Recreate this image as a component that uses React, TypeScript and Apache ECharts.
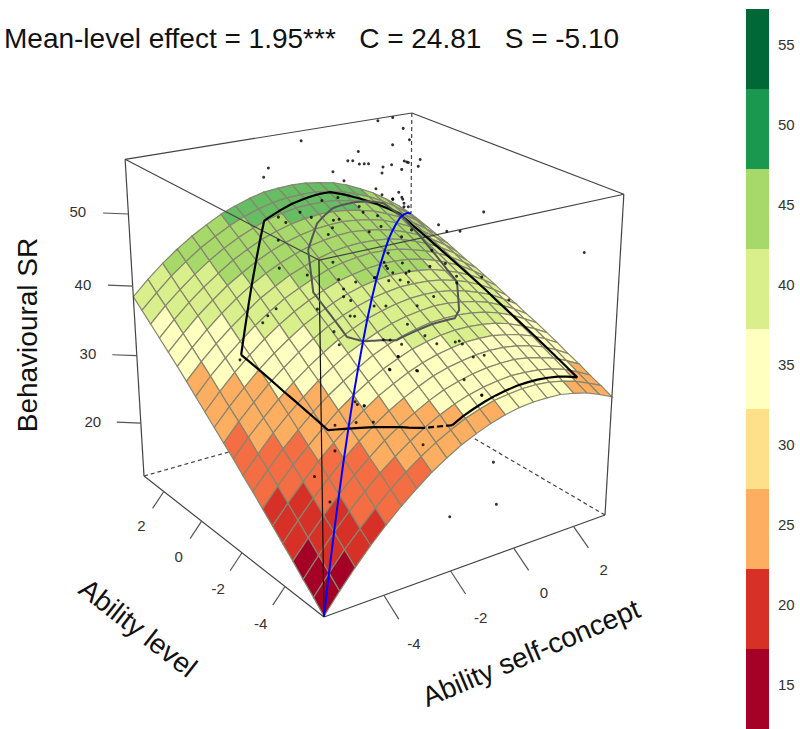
import React, { useEffect, useRef } from "react";
import * as echarts from "echarts";

// ---------- data ----------
const titleText = "Mean-level effect = 1.95***   C = 24.81   S = -5.10";
const zLabel = "Behavioural SR";
const yLabel = "Ability level";
const xLabel = "Ability self-concept";
const planeTicks = [-4, -2, 0, 2];
const srTicks = [20, 30, 40, 50];
const legendVals = [15, 20, 25, 30, 35, 40, 45, 50, 55];
const legendCols = ["#a50026", "#d73027", "#fdae61", "#fee08b", "#ffffbf", "#d9ef8b", "#a6d96a", "#1a9850", "#006837"];
const bandBreaks = [17.2, 22.2, 27.2, 32.2, 37.2, 42.2, 47.2];
const bandCols = ["#a50026", "#d73027", "#f46d43", "#fdae61", "#ffffbf", "#d9ef8b", "#a6d96a", "#66bd63"];

const gridVals = [-5.7, -5.26, -4.82, -4.38, -3.94, -3.5, -3.06, -2.62, -2.18, -1.74, -1.3, -0.86, -0.42, 0.02, 0.46, 0.9, 1.34, 1.78, 2.22, 2.66, 3.1];
// Behavioural SR over the grid: one row per ability level, one column per self-concept
const surface = [
  [12.0, 14.7, 17.2, 19.5, 21.6, 23.5, 25.2, 26.8, 28.1, 29.3, 30.2, 31.0, 31.6, 32.0, 32.2, 32.2, 32.1, 31.7, 31.2, 30.4, 29.5],
  [13.5, 16.1, 18.6, 20.8, 22.9, 24.8, 26.5, 28.0, 29.3, 30.4, 31.4, 32.1, 32.7, 33.0, 33.2, 33.2, 33.0, 32.6, 32.0, 31.2, 30.3],
  [14.9, 17.5, 20.0, 22.2, 24.2, 26.1, 27.7, 29.2, 30.5, 31.6, 32.5, 33.2, 33.7, 34.0, 34.2, 34.1, 33.9, 33.5, 32.9, 32.0, 31.0],
  [16.4, 18.9, 21.3, 23.5, 25.5, 27.3, 29.0, 30.4, 31.6, 32.7, 33.6, 34.2, 34.7, 35.0, 35.1, 35.1, 34.8, 34.3, 33.7, 32.8, 31.8],
  [17.8, 20.3, 22.7, 24.8, 26.8, 28.6, 30.2, 31.6, 32.8, 33.8, 34.7, 35.3, 35.7, 36.0, 36.1, 36.0, 35.7, 35.2, 34.5, 33.6, 32.5],
  [19.2, 21.7, 24.0, 26.2, 28.1, 29.8, 31.4, 32.8, 33.9, 34.9, 35.7, 36.3, 36.7, 37.0, 37.0, 36.9, 36.5, 36.0, 35.3, 34.4, 33.3],
  [20.6, 23.1, 25.4, 27.4, 29.3, 31.1, 32.6, 33.9, 35.1, 36.0, 36.8, 37.3, 37.7, 37.9, 37.9, 37.7, 37.4, 36.8, 36.0, 35.1, 34.0],
  [22.0, 24.4, 26.7, 28.7, 30.6, 32.3, 33.7, 35.0, 36.2, 37.1, 37.8, 38.3, 38.7, 38.8, 38.8, 38.6, 38.2, 37.6, 36.8, 35.8, 34.7],
  [23.3, 25.7, 28.0, 30.0, 31.8, 33.5, 34.9, 36.2, 37.2, 38.1, 38.8, 39.3, 39.6, 39.8, 39.7, 39.4, 39.0, 38.4, 37.5, 36.5, 35.3],
  [24.7, 27.1, 29.2, 31.2, 33.0, 34.6, 36.0, 37.3, 38.3, 39.2, 39.8, 40.3, 40.6, 40.7, 40.6, 40.3, 39.8, 39.1, 38.3, 37.2, 36.0],
  [26.0, 28.4, 30.5, 32.5, 34.2, 35.8, 37.2, 38.4, 39.4, 40.2, 40.8, 41.2, 41.5, 41.5, 41.4, 41.1, 40.6, 39.9, 39.0, 37.9, 36.6],
  [27.3, 29.6, 31.7, 33.7, 35.4, 36.9, 38.3, 39.4, 40.4, 41.2, 41.8, 42.2, 42.4, 42.4, 42.2, 41.9, 41.3, 40.6, 39.7, 38.6, 37.3],
  [28.6, 30.9, 33.0, 34.9, 36.6, 38.1, 39.4, 40.5, 41.4, 42.2, 42.7, 43.1, 43.3, 43.3, 43.1, 42.7, 42.1, 41.3, 40.4, 39.2, 37.9],
  [29.9, 32.2, 34.2, 36.0, 37.7, 39.2, 40.5, 41.5, 42.4, 43.2, 43.7, 44.0, 44.2, 44.1, 43.9, 43.4, 42.8, 42.0, 41.0, 39.8, 38.5],
  [31.2, 33.4, 35.4, 37.2, 38.8, 40.3, 41.5, 42.6, 43.4, 44.1, 44.6, 44.9, 45.0, 44.9, 44.7, 44.2, 43.5, 42.7, 41.7, 40.5, 39.0],
  [32.5, 34.6, 36.6, 38.4, 40.0, 41.4, 42.6, 43.6, 44.4, 45.1, 45.5, 45.8, 45.9, 45.7, 45.4, 44.9, 44.2, 43.4, 42.3, 41.1, 39.6],
  [33.7, 35.8, 37.8, 39.5, 41.1, 42.4, 43.6, 44.6, 45.4, 46.0, 46.4, 46.6, 46.7, 46.5, 46.2, 45.7, 44.9, 44.0, 42.9, 41.6, 40.2],
  [34.9, 37.0, 38.9, 40.6, 42.1, 43.5, 44.6, 45.6, 46.3, 46.9, 47.3, 47.5, 47.5, 47.3, 46.9, 46.4, 45.6, 44.7, 43.5, 42.2, 40.7],
  [36.1, 38.2, 40.0, 41.7, 43.2, 44.5, 45.6, 46.5, 47.3, 47.8, 48.2, 48.3, 48.3, 48.1, 47.7, 47.1, 46.3, 45.3, 44.1, 42.8, 41.2],
  [37.3, 39.3, 41.2, 42.8, 44.3, 45.5, 46.6, 47.5, 48.2, 48.7, 49.0, 49.1, 49.1, 48.8, 48.4, 47.7, 46.9, 45.9, 44.7, 43.3, 41.7],
  [38.5, 40.5, 42.3, 43.9, 45.3, 46.5, 47.6, 48.4, 49.1, 49.6, 49.8, 49.9, 49.8, 49.5, 49.1, 48.4, 47.5, 46.5, 45.2, 43.8, 42.2],
];
// observations: self-concept, behavioural SR (ability level taken at its mid plane, 0)
const obsConcept = [
  -0.21, 0.25, -2.50, 0.25, -0.81, -1.13, -0.98, -0.78, -0.63, -0.50,
  0.22, -0.05, -0.08, -1.58, -3.45, -3.59, -1.25, -0.27, -0.08, 0.26,
  -1.92, -1.44, -2.57, -2.24, -3.20, -2.99, -0.79, -0.67, -0.22, -1.58,
  -1.41, -1.61, -0.11, -0.48, -1.74, -3.22, 0.12, -1.61, -0.01, -3.21,
  -2.39, 0.27, 0.10, -0.30, -1.44, -0.91, 0.14, -1.29, -1.29, -1.07,
  -0.33, 0.05, -3.33, -2.10, -3.58, -3.73, -1.09, -0.95, -1.60, -1.44,
  -0.03, 0.19, 0.58, 0.78, 0.62, 0.70, 0.75, 1.13, 1.07, 0.54,
  0.45, 0.55, 0.58, 0.26, 0.62, 0.62, 0.76, 3.29, 1.76, 2.04,
  2.49, 7.05, 0.87, 0.55, 1.55, 2.01, 0.58, 0.05, 0.80, 0.70,
  1.49, 2.40, -0.32, 0.51, 0.78, 1.08, 1.63, 2.41, 4.28, 3.28,
  0.76, 1.35, 0.57, 1.76, 2.40, 2.54, 2.65, 0.46, 3.05, 3.44,
  0.19, 1.11, 2.74, 3.39, -0.66, -0.95, -4.42, 0.17, 0.46, 1.08,
  -0.88, -0.65, -1.60, -0.92, -0.36, -1.61, -2.27, -1.79, 3.89, 4.05,
  2.32, 1.33, 3.39,
];
const obsSR = [
  62.3, 62.4, 61.3, 58.7, 58.6, 57.6, 57.5, 56.9, 56.8, 56.7,
  56.0, 55.9, 55.1, 56.5, 58.5, 57.4, 55.0, 53.1, 52.1, 51.2,
  52.9, 52.9, 51.9, 50.9, 51.8, 50.9, 51.1, 50.2, 49.3, 49.9,
  49.9, 48.9, 47.7, 47.3, 48.1, 48.7, 43.7, 44.1, 42.5, 44.9,
  43.1, 40.7, 41.5, 40.6, 41.5, 40.6, 39.7, 40.0, 38.9, 38.1,
  36.5, 36.1, 39.4, 38.0, 38.7, 37.9, 35.9, 35.7, 34.2, 32.1,
  31.2, 30.9, 60.7, 59.0, 56.2, 56.0, 55.9, 56.0, 55.1, 55.1,
  52.0, 51.2, 50.9, 51.2, 50.3, 49.8, 49.7, 46.7, 46.2, 45.0,
  44.6, 37.0, 46.3, 45.6, 42.7, 40.3, 41.8, 41.9, 40.4, 40.2,
  40.4, 38.0, 40.6, 39.4, 38.8, 35.0, 35.8, 37.0, 32.4, 37.0,
  32.6, 30.2, 29.8, 28.5, 28.0, 28.0, 27.4, 28.1, 24.9, 24.7,
  26.4, 25.1, 21.7, 18.4, 22.0, 23.0, 33.5, 26.5, 28.1, 25.2,
  22.5, 22.0, 20.3, 19.8, 19.1, 16.4, 13.4, 8.7, 6.7, -0.7,
  -0.1, 13.2, 18.4,
];
const hullConcept = [-4.52, -2.27, 0.05, 1.98, 2.43, -1.65, -2.19, -3.89];
const hullLevel = [-0.24, 2.24, 2.63, 2.08, -5.08, -5.19, -4.83, -3.19];
const bagConcept = [-1.83, -1.10, -0.32, 0.41, 1.71, 1.96, 1.37, 0.60, 0.29, -1.47, -2.16, -2.41, -2.41];
const bagLevel = [0.82, 1.51, 1.93, 2.12, 2.50, 1.91, -1.36, -2.47, -2.70, -2.64, -2.16, -1.82, -0.30];

// ---------- perspective view of the box ----------
const LOW = -5.7, HIGH = 3.1, SR_LOW = 11.89, SR_HIGH = 57.36;
const VIEW_X = [360.04, -157.74, -32.6, 324];
const VIEW_Y = [-34.72, -67.42, -379.4, 617];
const VIEW_W = [0.13064, 0.15458, -0.0864, 1];
const dot4 = (m: number[], u: number, v: number, w: number) => m[0] * u + m[1] * v + m[2] * w + m[3];
const view = (u: number, v: number, w: number) => {
  const d = dot4(VIEW_W, u, v, w);
  return [dot4(VIEW_X, u, v, w) / d, dot4(VIEW_Y, u, v, w) / d];
};
const U = (x: number) => (x - LOW) / (HIGH - LOW);
const W = (z: number) => (z - SR_LOW) / (SR_HIGH - SR_LOW);
const project = (x: number, y: number, z: number) => view(U(x), U(y), W(z));

const surfaceAt = (x: number, y: number) => {
  const step = (HIGH - LOW) / (gridVals.length - 1);
  const last = gridVals.length - 2;
  const i = Math.min(last, Math.max(0, Math.floor((x - LOW) / step)));
  const j = Math.min(last, Math.max(0, Math.floor((y - LOW) / step)));
  const a = (x - gridVals[i]) / step, b = (y - gridVals[j]) / step;
  return (1 - b) * ((1 - a) * surface[j][i] + a * surface[j][i + 1]) + b * ((1 - a) * surface[j + 1][i] + a * surface[j + 1][i + 1]);
};
const drape = (xs: number[], ys: number[], order: number[]) => {
  const out: number[][] = [];
  for (let k = 0; k + 1 < order.length; k++) {
    const p = order[k], q = order[k + 1];
    for (let t = 0; t <= 12; t++) {
      const x = xs[p] + ((xs[q] - xs[p]) * t) / 12, y = ys[p] + ((ys[q] - ys[p]) * t) / 12;
      out.push(project(x, y, surfaceAt(x, y)));
    }
  }
  return out;
};

const n = gridVals.length;
const cells: number[][] = [];
for (let s = 2 * (n - 2); s >= 0; s--) for (let i = 0; i < n - 1; i++) { const j = s - i; if (j >= 0 && j < n - 1) cells.push([i, j]); }

const seg = (a: number[], b: number[]) => [a[0], a[1], b[0], b[1]];
const backEdges = [seg(view(1, 1, 1), view(1, 1, 0)), seg(view(0, 1, 0), view(1, 1, 0)), seg(view(1, 0, 0), view(1, 1, 0))];
const frontEdges = [seg(view(0, 0, 1), view(0, 1, 1)), seg(view(0, 0, 1), view(1, 0, 1)), seg(view(0, 1, 1), view(1, 1, 1)), seg(view(1, 0, 1), view(1, 1, 1)), seg(view(0, 1, 0), view(0, 1, 1)), seg(view(1, 0, 0), view(1, 0, 1)), seg(view(0, 0, 0), view(1, 0, 0)), seg(view(0, 0, 0), view(0, 1, 0))];
const tickSegs = [
  ...planeTicks.map((t) => seg(view(U(t), 0, 0), view(U(t), -0.07, -0.04))),
  ...planeTicks.map((t) => seg(view(0, U(t), 0), view(-0.04, U(t), -0.045))),
  ...srTicks.map((t) => seg(view(0, 1, W(t)), view(-0.056, 1.046, W(t)))),
];
const tickLabels: { p: number[]; t: string }[] = [
  ...planeTicks.map((t) => ({ p: view(U(t), -0.14, -0.08), t: String(t) })),
  ...planeTicks.map((t) => ({ p: view(-0.08, U(t), -0.09), t: String(t) })),
  ...srTicks.map((t) => ({ p: view(-0.112, 1.092, W(t)), t: String(t) })),
];

const FONT = "Liberation Sans";
const segSeries = (data: number[][], color: string, width: number, dashed: boolean, z: number) => ({
  type: "custom", coordinateSystem: "cartesian2d", data, clip: false, silent: true, z, encode: { x: 0, y: 1 },
  renderItem: (_: any, api: any) => {
    const p = api.coord([api.value(0), api.value(1)]), q = api.coord([api.value(2), api.value(3)]);
    return { type: "line", shape: { x1: p[0], y1: p[1], x2: q[0], y2: q[1] }, style: { stroke: color, lineWidth: width, lineDash: dashed ? [4, 3] : undefined } };
  },
});
const curve = (data: number[][], color: string, width: number, z: number, dashed?: boolean) => ({
  type: "line", data, showSymbol: false, symbol: "none", clip: false, silent: true, z,
  lineStyle: { color, width, type: dashed ? [6, 3] : "solid" },
});
// ECharts rotation is counter-clockwise for positive angles
const rotated = (text: string, x: number, y: number, deg: number) => ({
  type: "text", x, y, rotation: (deg * Math.PI) / 180, z: 50,
  style: { text, font: `28px ${FONT}`, fill: "#111", textAlign: "center", textVerticalAlign: "middle" },
});

export default function App() {
  const ref = useRef<HTMLDivElement>(null);
  useEffect(() => {
    document.body.style.margin = "0";
    const chart = echarts.init(ref.current!, null, { renderer: "svg" });
    const bagOrder = [...bagConcept.map((_, i) => i), 0];
    chart.setOption({
      animation: false,
      backgroundColor: "#fff",
      grid: [{ left: 0, top: 0, width: 800, height: 729 }, { left: 746, top: 9, width: 23, height: 720 }],
      xAxis: [{ type: "value", min: 0, max: 800, show: false }, { type: "value", min: 0, max: 1, show: false, gridIndex: 1 }],
      yAxis: [
        { type: "value", min: 0, max: 729, inverse: true, show: false },
        { type: "value", gridIndex: 1, min: 12.2, max: 57.2, position: "right", axisLine: { show: false }, axisTick: { show: false }, splitLine: { show: false }, axisLabel: { customValues: legendVals, margin: 9, fontSize: 15, color: "#333", fontFamily: FONT } },
      ],
      graphic: [
        { type: "text", x: 4, y: 24, z: 50, style: { text: titleText, font: `28px ${FONT}`, fill: "#111" } },
        rotated(zLabel, 27, 335, 90),
        rotated(yLabel, 138, 628, -38),
        rotated(xLabel, 531, 653, 23),
      ],
      series: [
        segSeries(backEdges, "#444", 1.2, true, 1),
        {
          type: "custom", coordinateSystem: "cartesian2d", data: cells, clip: false, silent: true, z: 2, encode: { x: 0, y: 1 },
          renderItem: (_: any, api: any) => {
            const i = api.value(0), j = api.value(1);
            const q = [[i, j], [i + 1, j], [i + 1, j + 1], [i, j + 1]];
            const m = q.reduce((s, a) => s + surface[a[1]][a[0]], 0) / 4;
            let k = 0;
            while (k < bandBreaks.length && m >= bandBreaks[k]) k++;
            return { type: "polygon", shape: { points: q.map((a) => api.coord(project(gridVals[a[0]], gridVals[a[1]], surface[a[1]][a[0]]))) }, style: { fill: bandCols[k], stroke: "#86866f", lineWidth: 1.2 } };
          },
        },
        segSeries(frontEdges, "#444", 1.2, false, 3),
        segSeries([seg(view(0, 0, 0), view(0, 0, 1))], "#111", 1.2, false, 3),
        segSeries(tickSegs, "#555", 1.2, false, 3),
        curve(drape(hullConcept, hullLevel, [0, 1, 2, 3, 4, 5]), "#000", 2.2, 5),
        curve(drape(hullConcept, hullLevel, [5, 6]), "#000", 2.2, 5, true),
        curve(drape(hullConcept, hullLevel, [6, 7, 0]), "#000", 2.2, 5),
        curve(drape(bagConcept, bagLevel, bagOrder), "#555", 2, 5),
        curve(gridVals.map((x, i) => project(x, x, surface[i][i])), "#0000ff", 2, 6),
        { type: "scatter", data: obsConcept.map((x, i) => project(x, 0, obsSR[i])), symbolSize: 3, itemStyle: { color: "#000" }, clip: false, silent: true, z: 7 },
        {
          type: "custom", coordinateSystem: "cartesian2d", data: tickLabels.map((l) => [l.p[0], l.p[1]]), clip: false, silent: true, z: 8, encode: { x: 0, y: 1 },
          renderItem: (params: any, api: any) => {
            const p = api.coord([api.value(0), api.value(1)]);
            return { type: "text", x: p[0], y: p[1], style: { text: tickLabels[params.dataIndex].t, font: `15px ${FONT}`, fill: "#333", textAlign: "center", textVerticalAlign: "middle" } };
          },
        },
        {
          type: "custom", coordinateSystem: "cartesian2d", xAxisIndex: 1, yAxisIndex: 1, data: legendVals.map((v) => [0, v]), silent: true, clip: false, encode: { x: 0, y: 1 },
          renderItem: (params: any, api: any) => {
            const v = api.value(1);
            const p = api.coord([0, v + 2.2]), q = api.coord([1, v - 2.8]);
            return { type: "rect", shape: { x: p[0], y: p[1], width: q[0] - p[0], height: q[1] - p[1] }, style: { fill: legendCols[params.dataIndex] } };
          },
        },
      ],
    });
    return () => chart.dispose();
  }, []);
  return <div ref={ref} style={{ width: 800, height: 729 }} />;
}
